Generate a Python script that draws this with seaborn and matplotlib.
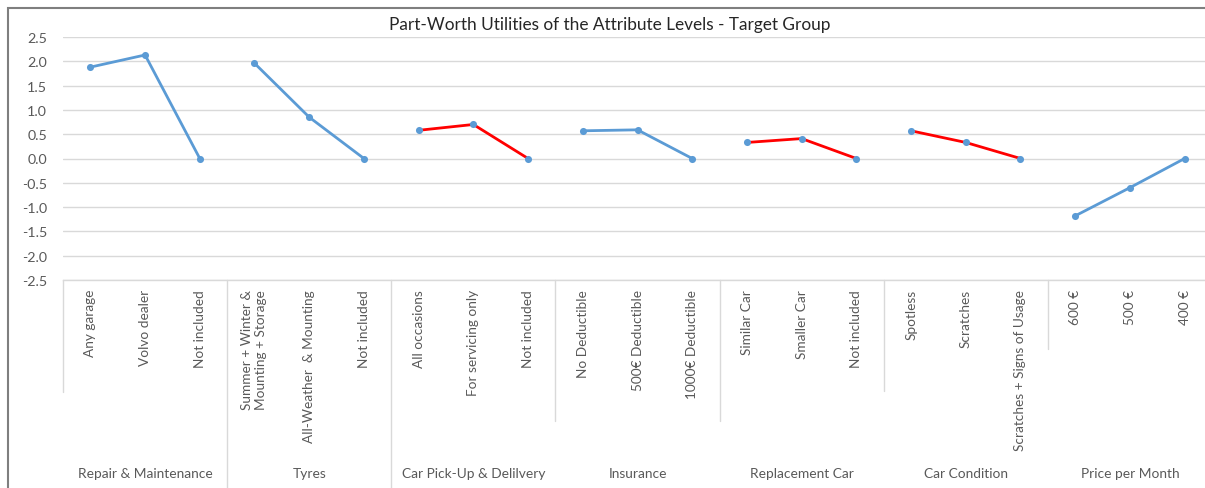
# Part-worth utilities chart (conjoint results, target group)

import pandas as pd
import matplotlib.pyplot as plt
import matplotlib.transforms as mtransforms
from matplotlib.patches import Rectangle
import seaborn as sns

# Attributes (groups), their levels and the utilities
groups = ["Repair & Maintenance", "Tyres", "Car Pick-Up & Delilvery", "Insurance",
          "Replacement Car", "Car Condition", "Price per Month"]
levels = [
    ["Any garage", "Volvo dealer", "Not included"],
    ["Summer + Winter &\nMounting + Storage", "All-Weather  & Mounting", "Not included"],
    ["All occasions", "For servicing only", "Not included"],
    ["No Deductible", "500€ Deductible", "1000€ Deductible"],
    ["Similar Car", "Smaller Car", "Not included"],
    ["Spotless", "Scratches", "Scratches + Signs of Usage"],
    ["600 €", "500 €", "400 €"],
]
utilities = [
    [1.88, 2.13, 0.0],
    [1.96, 0.85, 0.0],
    [0.58, 0.70, 0.0],
    [0.57, 0.59, 0.0],
    [0.33, 0.41, 0.0],
    [0.57, 0.33, 0.0],
    [-1.18, -0.60, 0.0],
]
highlighted = ["Car Pick-Up & Delilvery", "Replacement Car", "Car Condition"]
y_ticks = [-2.5, -2.0, -1.5, -1.0, -0.5, 0.0, 0.5, 1.0, 1.5, 2.0, 2.5]

BLUE = "#5b9bd5"
RED = "#ff0000"
GRID = "#d9d9d9"
TEXT = "#595959"

# long table, one row per level
rows = []
for g, lv, ut in zip(groups, levels, utilities):
    for name, val in zip(lv, ut):
        rows.append({"group": g, "level": name, "value": val})
df = pd.DataFrame(rows)
df["pos"] = range(len(df))

sns.set_style("white")
plt.rcParams['font.family'] = ['Lato', 'DejaVu Sans']

W, H = 1205, 489
fig = plt.figure(figsize=(W / 100, H / 100), dpi=100)
ax = fig.add_axes([63 / W, 1 - 281 / H, 1149 / W, 243 / H])

palette = {g: (RED if g in highlighted else BLUE) for g in groups}
sns.lineplot(data=df, x="pos", y="value", hue="group", palette=palette,
             linewidth=2.0, legend=False, sort=False, ax=ax)
sns.scatterplot(data=df, x="pos", y="value", color=BLUE, s=26, linewidth=0,
                zorder=3, legend=False, ax=ax)

ax.set_xlim(-0.5, len(df) - 0.5)
ax.set_ylim(-2.5, 2.5)
ax.set_yticks(y_ticks)
ax.set_yticklabels([f"{v:.1f}" for v in y_ticks])
ax.set_xticks(df["pos"])
ax.set_xticklabels(df["level"], rotation=90, va="top")
ax.tick_params(axis="y", length=0, pad=11.5, labelsize=10.3, labelcolor=TEXT)
ax.tick_params(axis="x", length=0, pad=6.5, labelsize=9.8, labelcolor=TEXT)
ax.set_xlabel("")
ax.set_ylabel("")
ax.yaxis.grid(True, color=GRID, linewidth=1)
ax.xaxis.grid(False)
for side in ["left", "right", "top"]:
    ax.spines[side].set_visible(False)
ax.spines["bottom"].set_color(GRID)
ax.spines["bottom"].set_linewidth(1)

# group labels and dividers of the two-level category axis
trans = mtransforms.blended_transform_factory(ax.transData, fig.transFigure)
for i, g in enumerate(groups):
    ax.text(i * 3 + 1, 1 - 474 / H, g, transform=trans, ha="center", va="center",
            fontsize=9.9, color=TEXT)
divider_bottoms = [393, 489, 489, 422, 422, 392, 350]
for i, b in enumerate(divider_bottoms):
    ax.plot([i * 3 - 0.5, i * 3 - 0.5], [1 - 281 / H, 1 - b / H], transform=trans,
            color=GRID, linewidth=1, clip_on=False)

fig.text(610 / W, 1 - 25 / H, "Part-Worth Utilities of the Attribute Levels - Target Group",
         ha="center", va="center", fontsize=12.4, color="#262626")

# chart frame
fig.add_artist(Rectangle((8 / W, -0.1), 1.1, 1.1 - 9 / H, transform=fig.transFigure,
                         fill=False, edgecolor="#7f7f7f", linewidth=1.5))

plt.savefig("out.png", dpi=100)
plt.close()
